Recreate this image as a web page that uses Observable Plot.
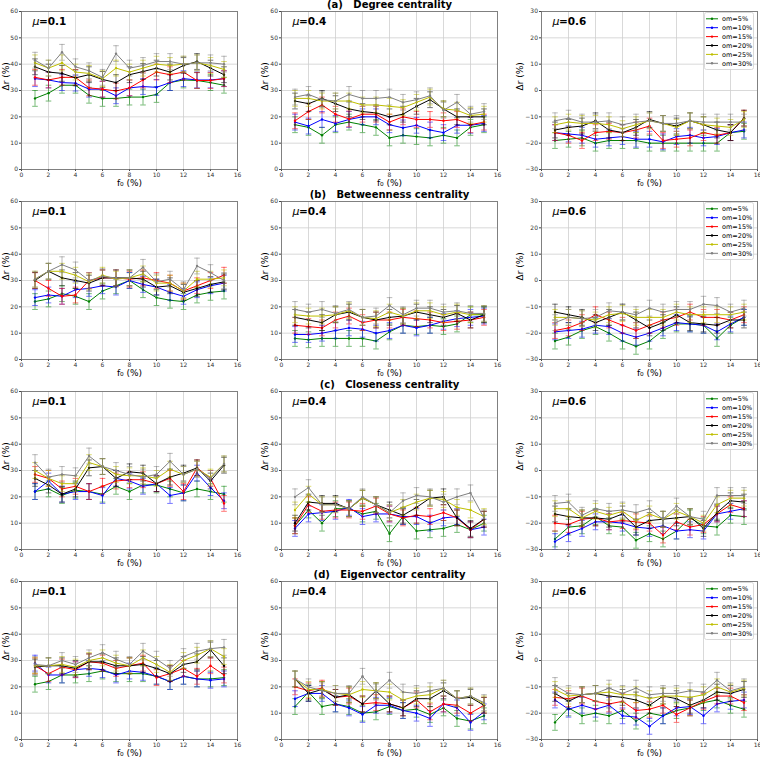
<!DOCTYPE html>
<html><head><meta charset="utf-8">
<script src="https://cdn.jsdelivr.net/npm/d3@7"></script>
<script src="https://cdn.jsdelivr.net/npm/@observablehq/plot@0.6"></script>
<style>
body{margin:0;background:#fff;font-family:"DejaVu Sans",sans-serif;}
#fig{position:relative;width:760px;height:759px;overflow:hidden;background:#fff;}
.panel{position:absolute;width:255px;height:190px;}
.panel svg{overflow:visible;}
.legend{position:absolute;}
</style></head><body><div id="fig"></div>
<script>
// ---------- data ----------
const f0 = [1,2,3,4,5,6,7,8,9,10,11,12,13,14,15];
const omLabels = ["om=5%","om=10%","om=15%","om=20%","om=25%","om=30%"];
const omColors = ["#008000","#0000ff","#ff0000","#000000","#bfbf00","#808080"];
const rowTitles = ["(a)   Degree centrality","(b)   Betweenness centrality","(c)   Closeness centrality","(d)   Eigenvector centrality"];
const muLabels = ["0.1","0.4","0.6"];
const errHalf = [3,3,3,3,3,3];
const xTicks = [0,2,4,6,8,10,12,14,16];
const yTicksPos = [0,10,20,30,40,50,60];
const yTicksSym = [-30,-20,-10,0,10,20,30];

// order of series: om=5%, 10%, 15%, 20%, 25%, 30%
const degree01 = [
  [27,29,32,32,28.2,27,27,27.5,27.5,28.5,33,34,33.8,33,32],
  [34.5,34,33,32.8,30.5,30.5,28,31,31.5,31.2,33,34.5,34,34,34.5],
  [35,34,35,35,31,30.5,29.8,31,34,37,36,37,33.8,33.8,34.5],
  [39,37,36.5,34.8,36,34.2,33,36,37.2,38.5,37,39.5,41,38.5,36],
  [40.5,38.5,40.5,37,36.5,34.5,38.5,37,38.5,40,39.5,40,40.5,39.5,38],
  [41.5,38.5,44.5,39,37.5,35,44,38.5,39.5,41,41,40,40.5,40.5,40]
];
const degree04 = [
  [17,16,13,17,18,17,16,12,13,12.5,12,13,12,16,17],
  [18,16.5,19,17.5,19,20,20,17,15.8,16.8,15,14,16.8,16.8,17.5],
  [18.5,22,24.5,21,19.2,21,21,18,20,19,19,18.5,19,17,18],
  [26,25,27,25,23,22,21.5,20,21,24,26.5,23,20,20,20],
  [27,27,26,26,26,24.5,24.5,24,23.5,25.5,27.5,23,22.5,20.5,21],
  [27.5,28.5,26.5,26,28.5,27,27,27.5,25.5,26.5,28,22.5,25.5,21,22]
];
const degree06 = [
  [-19,-18.5,-18,-20,-19,-19,-19,-20,-20,-20,-20,-20,-20,-16,-15.5],
  [-16,-16.5,-17,-18.5,-18,-17.5,-18.5,-18.5,-19.5,-17.5,-17,-18,-17.5,-16,-15],
  [-16,-17,-19,-16,-15.5,-16,-15,-13.5,-19,-18.5,-18,-16,-17,-16,-10.5],
  [-15,-14,-13.5,-11.5,-15,-16,-14,-11,-12.5,-13.5,-11.5,-13,-15,-16,-10.5],
  [-13,-12,-12.5,-12.5,-13,-14.5,-13,-11.5,-12.5,-14,-11.5,-13,-13.5,-14,-11],
  [-11.5,-10.5,-12,-12,-11.5,-13,-12,-11.5,-12.5,-12.5,-11.5,-12,-12,-12,-12]
];
const betweenness01 = [
  [22,23,25,24,22,26,28,30,26.5,23.5,22.5,22,24.5,25.5,26],
  [23.5,24.5,24,26.5,27,28,27.5,30,28.5,27.5,25.5,24,26.5,28,29],
  [30,27,24,24.5,30,31,31,30.5,31,30,29,26,28,30,32],
  [30,33.5,31,30,29,31,31,31,30.5,27.5,28,25.5,27,28.5,29.5],
  [30.5,33.5,33.5,32,29.5,32,30.5,31,32.5,29,29,26,30.5,30.5,31],
  [30.5,33.5,36,34,30,31.5,31,31,35,29.5,30.5,26.5,35.5,33,30]
];
const betweenness04 = [
  [8,7.5,8,8,8,8,7,10.5,13,12.5,13,12.5,13.5,17,17],
  [9.5,9.5,10,11,12,11.5,10,11,13,12,13,14.5,15.5,16,16.5],
  [13,12.5,12,15,16.5,14,15,15,16,15.5,15,14,14.5,15,16],
  [16,15,14,17,18,16,15,16,16.5,18,17,16,17.5,15,17],
  [17,16.5,16.5,17,18.5,16,15.5,18,16.5,18.5,18.5,17,18,17,17.5],
  [19,18,19,17.5,19,16,16.5,20.5,17,19.5,19.5,18,18.5,17.5,17.5]
];
const betweenness06 = [
  [-23,-21.5,-19,-17.5,-20,-23,-25,-23,-19,-16.5,-16.5,-17,-22,-17,-14],
  [-19.5,-19,-18.5,-17,-17.5,-20,-21.5,-20,-18,-16,-16.5,-17,-19.5,-16.5,-14],
  [-19,-18,-16,-13,-15,-17,-19,-17,-15,-14,-12,-14,-14,-15,-13],
  [-12,-13,-14,-16,-14,-12,-15,-18,-16,-13,-16,-16.5,-17,-15,-15],
  [-14,-14,-14.5,-15,-13,-12.5,-14,-14,-14,-12,-13,-13,-13,-13,-12],
  [-16,-14,-14.5,-14,-11.5,-12,-13,-10.5,-12,-11,-11,-9,-9.5,-12,-10.5]
];
const closeness01 = [
  [22,23,20.5,22.5,22,21,24,22,24.5,24.5,23,21.5,23,22,21],
  [22,26,21,22,22,20.5,27,26,24,25,20.5,21.5,29,23.5,18.5],
  [28.5,27,23,24,22,24,26,26.5,26.5,25,27,22,31,27,17.5],
  [27,24.5,21,23,31,31.5,27,29.5,29,25,27.5,29,31,26,32],
  [30,27,25,25,33,31.5,28.5,28,28,27,30.5,28.5,30.5,27.5,32.5],
  [33,27.5,28.5,28,35.5,31.5,30,28.5,27.5,28.5,33.5,28.5,30.5,27,32.5]
];
const closeness04 = [
  [9,15,10,15.5,15.5,13.5,14.5,6,12.5,7,7.5,8,9.5,7.5,10],
  [8,13.5,14,14.5,16,12.5,13.5,13.5,12.5,12.5,10,12,12.5,7.5,8.5],
  [9,17,14.5,15,15,14.5,16.5,13.5,12,13,12.5,14,12,7.5,11.5],
  [10,18,17.5,17.5,15.5,19.5,17,15,13,16,19.5,20,12,8,11.5],
  [15,21,17,17,15.5,19.5,17,14,16,18,19.5,19,16,15,12.5],
  [20,23.5,17,17,15.5,20,17,14,18.5,20.5,20,18,20,21.5,12]
];
const closeness06 = [
  [-26,-21.5,-21,-17.5,-21,-21.5,-26.5,-24,-26,-23,-18,-21,-21.5,-17,-17.5],
  [-27,-24,-22,-19.5,-19.5,-20,-21.5,-22,-21,-23,-22.5,-23,-16.5,-15.5,-14.5],
  [-20,-20.5,-18.5,-18,-19.5,-19,-19.5,-20,-24.5,-19.5,-21.5,-20.5,-16.5,-13,-14.5],
  [-16.5,-17.5,-18,-18,-18.5,-16.5,-21.5,-19,-18.5,-18,-17.5,-22,-16,-11.5,-12],
  [-14.5,-14.5,-18,-15.5,-17,-15.5,-19,-16.5,-18.5,-15.5,-17.5,-20,-13,-10.5,-10.5],
  [-12.5,-12,-17,-14.5,-15.5,-15,-16,-14.5,-18.5,-13.5,-17.5,-18.5,-9.5,-9.5,-9.5]
];
const eigenvector01 = [
  [21,22,24.5,24.5,25,26,25,25,25,24,22,24,23,23,23.5],
  [29,24.5,24.5,26.5,27,26.5,24.5,26,25.5,24,22,24,23,22.5,23],
  [28,25,27.5,26.5,29.5,29,27,28,29,23.5,25,27,24,28,24.5],
  [27.5,28,28,27,29.5,29.5,28,28,28.5,27,25,28.5,29.5,34,28],
  [28,28,28.5,27.5,30,31,29,28,31,28.5,25.5,30,32,34.5,31.5],
  [28.5,28,30,28.5,31,33,30.5,28.5,33.5,30.5,27,31.5,33.5,34.5,35]
];
const eigenvector04 = [
  [12.5,18,12.5,13.5,12.5,10,10.5,12.5,11,11.5,9.5,12,8,7,9],
  [15.5,17.5,17.5,13.5,12,9.5,13,13,11,10,8,13.5,12,6.5,10.5],
  [20,18.5,19.5,16,16.5,13.5,14,13.5,12,15,10.5,13.5,13,10,13],
  [23,17.5,19,16,17,13.5,18.5,13.5,12,15.5,15.5,18.5,15.5,16,13],
  [23,19,19,17.5,17,19,18.5,18,15,16.5,17,19.5,15.5,16.5,13.5],
  [23,20,18.5,17.5,17.5,24,18,22.5,18,17.5,18.5,19.5,15.5,16.5,14]
];
const eigenvector06 = [
  [-23.5,-18,-21,-20,-21,-19,-23,-20,-21,-19,-18,-16,-15,-17,-18.5],
  [-15,-18.5,-17,-18.5,-17,-21,-21.5,-25,-21,-18,-17.5,-21,-16.5,-15.5,-15],
  [-14,-14.5,-13.5,-15.5,-16.5,-15.5,-19,-18.5,-17,-20.5,-18,-15.5,-13.5,-13.5,-16],
  [-12.5,-15.5,-13,-12.5,-13.5,-14,-15,-17,-13.5,-14.5,-17,-15,-12,-12.5,-11],
  [-11,-13.5,-13,-12.5,-12,-13,-13,-14.5,-13.5,-13.5,-14,-13,-10,-12,-10.5],
  [-9.5,-12.5,-13,-12.5,-10.5,-12.5,-10.5,-13,-12.5,-12.5,-11.5,-12,-7.5,-11.5,-10]
];

const grid = [
  [degree01, degree04, degree06],
  [betweenness01, betweenness04, betweenness06],
  [closeness01, closeness04, closeness06],
  [eigenvector01, eigenvector04, eigenvector06]
];

// ---------- drawing ----------
const capSymbol = {draw(ctx, size) { const r = Math.sqrt(size / Math.PI); ctx.moveTo(-r, 0); ctx.lineTo(r, 0); }};
const fig = document.getElementById("fig");
const colLeft = [0, 255, 505];
const marginLefts = [21, 26, 36];
const ylabelDx = [-15, -16, -21];

function makePanel(values, row, col) {
  const sym = col === 2;
  const ml = marginLefts[col];
  const data = values.flatMap((ys, s) => ys.map((v, i) => ({f: f0[i], v, om: omLabels[s], e: errHalf[s]})));
  const yt = sym ? yTicksSym : yTicksPos;
  const marks = [
    Plot.gridX(xTicks, {stroke: "#cfcfcf", strokeOpacity: 1, strokeWidth: 0.8}),
    Plot.gridY(yt, {stroke: "#cfcfcf", strokeOpacity: 1, strokeWidth: 0.8}),
    Plot.axisX(xTicks, {tickSize: 2, tickPadding: 1.5, fontSize: 6, label: null, stroke: "#444", fill: "#333"}),
    Plot.axisY(yt, {tickSize: 2, tickPadding: 1.5, fontSize: 6, label: null, stroke: "#444", fill: "#333"})
  ];
  omLabels.forEach((om) => {
    const d = data.filter(p => p.om === om);
    marks.push(
      Plot.ruleX(d, {x: "f", y1: p => p.v - p.e, y2: p => p.v + p.e, stroke: "om", strokeWidth: 0.9, strokeOpacity: 0.6}),
      Plot.dot(d, {x: "f", y: p => p.v + p.e, symbol: capSymbol, r: 2.8, stroke: "om", fill: "none", strokeWidth: 0.9, strokeOpacity: 0.6}),
      Plot.dot(d, {x: "f", y: p => p.v - p.e, symbol: capSymbol, r: 2.8, stroke: "om", fill: "none", strokeWidth: 0.9, strokeOpacity: 0.6}),
      Plot.line(d, {x: "f", y: "v", stroke: "om", strokeWidth: 1}),
      Plot.dot(d, {x: "f", y: "v", fill: "om", r: 1.2})
    );
  });
  marks.push(
    Plot.frame({stroke: "#6a6a6a", strokeWidth: 0.8}),
    Plot.text(["μ"], {frameAnchor: "top-left", dx: 11, dy: 10, textAnchor: "start", lineAnchor: "middle", fontStyle: "italic", fontSize: 11, fill: "#000"}),
    Plot.text(["=" + muLabels[col]], {frameAnchor: "top-left", dx: 17.5, dy: 10, textAnchor: "start", lineAnchor: "middle", fontWeight: "bold", fontSize: 10.5, fill: "#000"}),
    Plot.text(["f₀ (%)"], {frameAnchor: "bottom", dy: 14, lineAnchor: "middle", fontSize: 9, fill: "#000"}),
    Plot.text(["Δr (%)"], {frameAnchor: "left", dx: ylabelDx[col], rotate: -90, lineAnchor: "middle", fontSize: 9, fill: "#000"})
  );
  if (col === 1) {
    marks.push(Plot.text([rowTitles[row]], {frameAnchor: "top", dy: -7, lineAnchor: "middle", fontWeight: "bold", fontSize: 10, fill: "#000"}));
  }
  const chart = Plot.plot({
    width: 255, height: 190,
    marginLeft: ml, marginRight: 255 - ml - 216, marginTop: 11, marginBottom: 21,
    style: {fontFamily: "DejaVu Sans, sans-serif", background: "transparent", overflow: "visible"},
    x: {domain: [0, 16], axis: null},
    y: {domain: sym ? [-30, 30] : [0, 60], axis: null},
    color: {domain: omLabels, range: omColors},
    marks
  });
  const div = document.createElement("div");
  div.className = "panel";
  div.style.left = colLeft[col] + "px";
  div.style.top = (row * 190) + "px";
  div.appendChild(chart);
  fig.appendChild(div);
  if (sym) addLegend(div);
}

function addLegend(div) {
  const svg = d3.select(div).append("svg")
    .attr("class", "legend")
    .style("left", "199px").style("top", "12px")
    .attr("width", 50).attr("height", 58);
  svg.append("rect").attr("x", 0.5).attr("y", 0.5).attr("width", 49).attr("height", 57)
    .attr("rx", 2).attr("fill", "#fff").attr("fill-opacity", 0.85).attr("stroke", "#d0d0d0").attr("stroke-width", 0.8);
  omLabels.forEach((om, i) => {
    const y = 6.8 + i * 8.9;
    const g = svg.append("g");
    g.append("line").attr("x1", 2).attr("x2", 14).attr("y1", y).attr("y2", y).attr("stroke", omColors[i]).attr("stroke-width", 1);
    g.append("circle").attr("cx", 8).attr("cy", y).attr("r", 1.2).attr("fill", omColors[i]);
    g.append("text").attr("x", 18).attr("y", y).attr("dy", "0.35em").attr("font-size", 6.5)
      .attr("font-family", "DejaVu Sans, sans-serif").attr("fill", "#000").text(om);
  });
}

grid.forEach((rowVals, row) => rowVals.forEach((vals, col) => makePanel(vals, row, col)));
</script></body></html>
